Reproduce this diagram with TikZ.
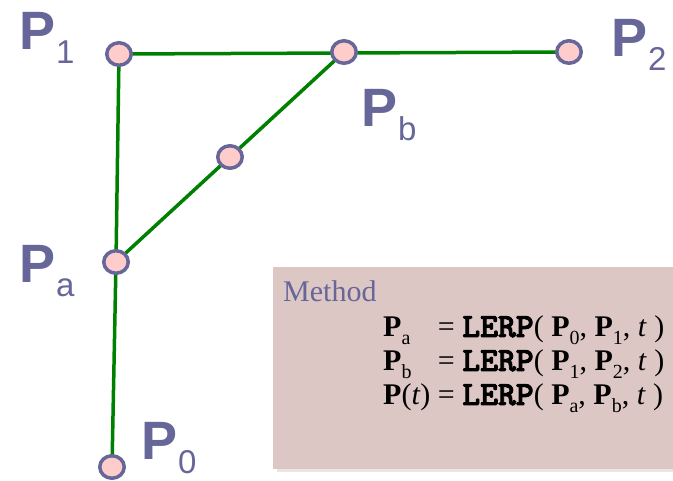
\documentclass[tikz,border=0pt]{standalone}
\usepackage{fontspec}
\setmainfont{Liberation Serif}
\setsansfont{Liberation Sans}
\newfontfamily\lerpfont{lmmonolt10-bold.otf}[FakeBold=2.5]
\usetikzlibrary{shapes.geometric, backgrounds}
\definecolor{ptblue}{RGB}{102,102,153}
\definecolor{ptfill}{RGB}{255,204,204}
\definecolor{segreen}{RGB}{0,128,0}
\definecolor{boxfill}{RGB}{221,199,197}
\definecolor{boxshade}{RGB}{238,228,227}
\newcommand{\ptlab}[1]{{\fontsize{54}{54}\selectfont\bfseries P}\kern1pt\raisebox{-14pt}{\fontsize{33}{33}\selectfont #1}}
\newcommand{\bP}{\textbf{P}}
\newcommand{\lsub}[1]{\raisebox{-8pt}{\fontsize{20}{20}\selectfont #1}}
\newcommand{\lerp}{{\fontsize{34}{34}\selectfont\lerpfont LERP}}

\begin{document}
\begin{tikzpicture}[x=1pt, y=-1pt,
  pt/.style={ellipse, draw=ptblue, fill=ptfill, line width=3.5pt, minimum width=24.5pt, minimum height=22.5pt, inner sep=0pt},
  seg/.style={draw=segreen, line width=3.5pt},
  lab/.style={anchor=base west, inner sep=0pt, text=ptblue, font=\sffamily},
  eq/.style={anchor=base west, inner sep=0pt, font=\fontsize{30}{34}\selectfont}]
  \useasboundingbox (0,0) rectangle (673,481);
  % method box
  \fill[boxshade] (277,271) rectangle (677,472);
  \fill[boxfill] (273,267) rectangle (673,469);
  \node[eq, text=ptblue] (meth) at (283,302) {Method};
  \node[eq] (rows) at (383,337) {\begin{tabular}[t]{@{}l@{\ }l@{}}
    \bP\lsub{a} & = \lerp( \bP\lsub{0}, \bP\lsub{1}, \textit{t} )\\
    \bP\lsub{b} & = \lerp( \bP\lsub{1}, \bP\lsub{2}, \textit{t} )\\
    \bP(\textit{t}) & = \lerp( \bP\lsub{a}, \bP\lsub{b}, \textit{t} )
  \end{tabular}};
  % control points
  \node[pt] (p1) at (119,54) {};
  \node[pt] (p2) at (569,52) {};
  \node[pt] (pb) at (344,52) {};
  \node[pt] (pa) at (116,262) {};
  \node[pt] (pm) at (230,157) {};
  \node[pt] (p0) at (112,467) {};
  % segments
  \begin{pgfonlayer}{background}
    \draw[seg] (p1.center) -- (p2.center);
    \draw[seg] (p1.center) -- (pa.center) -- (p0.center);
    \draw[seg] (pa.center) -- (pm.center) -- (pb.center);
  \end{pgfonlayer}
  % labels
  \node[lab] (l1) at (19,50) {\ptlab{1}};
  \node[lab] (l2) at (611,57) {\ptlab{2}};
  \node[lab] (lb) at (361,127) {\ptlab{b}};
  \node[lab] (la) at (19,283) {\ptlab{a}};
  \node[lab] (l0) at (141,460) {\ptlab{0}};
\end{tikzpicture}
\end{document}
